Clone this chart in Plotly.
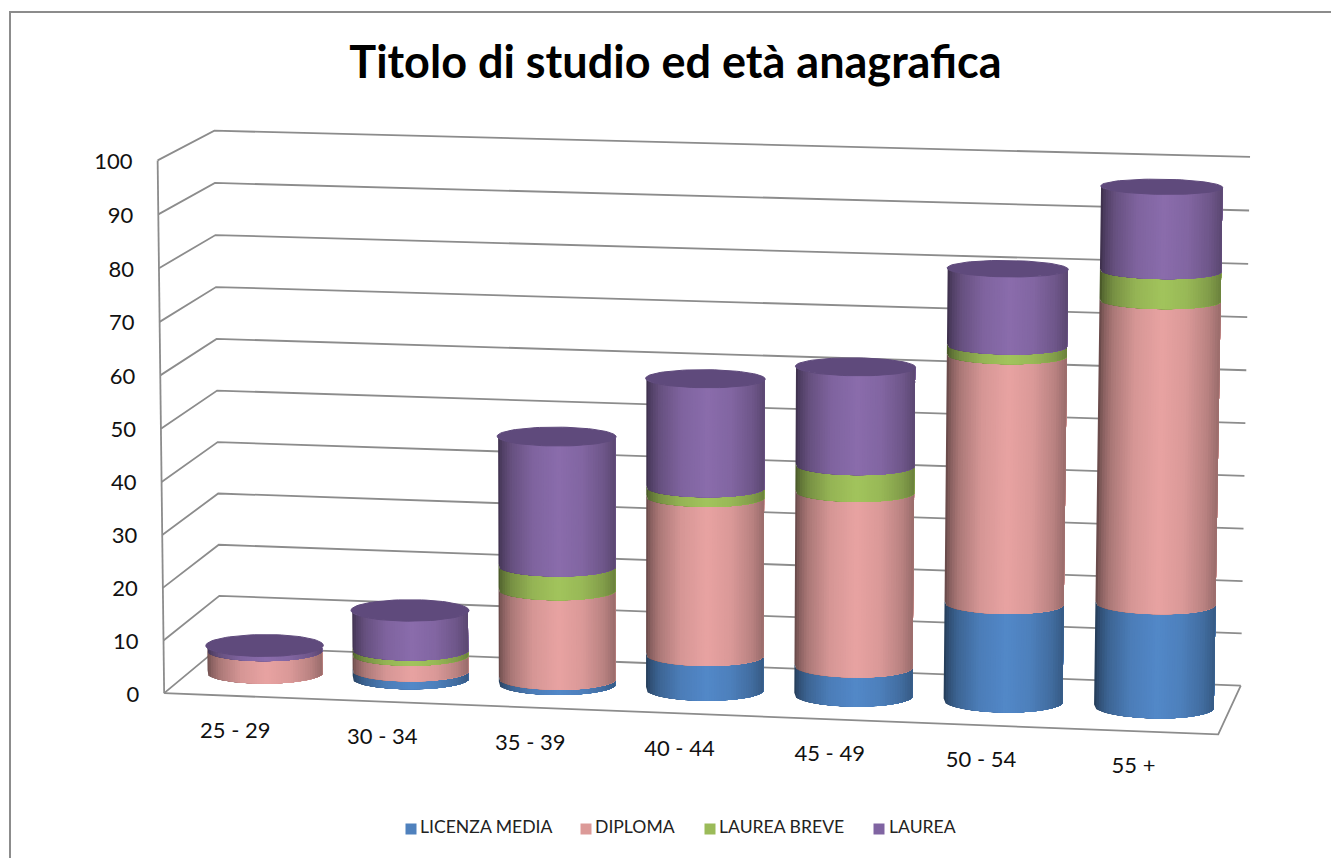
import numpy as np
import plotly.graph_objects as go

categories = ["25 - 29", "30 - 34", "35 - 39", "40 - 44", "45 - 49", "50 - 54", "55 +"]
licenza_media = [0, 1.5, 1, 6.6, 5.5, 18.5, 19.5]
diploma = [4.3, 3, 17, 30, 33, 46.5, 56.5]
laurea_breve = [0, 1, 4.5, 1.8, 5, 1.8, 5.5]
laurea = [0.9, 7.5, 24.6, 20.5, 18.5, 14.3, 15.5]
series_names = ["LICENZA MEDIA", "DIPLOMA", "LAUREA BREVE", "LAUREA"]
series_values = [licenza_media, diploma, laurea_breve, laurea]
legend_colors = ["#4F81BD", "#DC9A98", "#9BBB59", "#8064A2"]
side_rgb = [(82, 136, 200), (232, 163, 162), (162, 196, 92), (138, 108, 172)]
top_color = "#5f4a7c"
grid_color = "#8c8c8c"
y_ticks = list(range(0, 101, 10))

# Perspective of the chart box, fitted to its corners: (category share, value share, depth share) -> page pixel
corners = [((0, 0, 0), (165, 693)), ((0, 1, 0), (157, 160)), ((0, 1, 1), (215, 131)), ((0, 0, 1), (219, 647)),
           ((1, 1, 1), (1250, 157)), ((1, 0, 1), (1241, 685)), ((1, 0, 0), (1218, 735))]
A, b = [], []
for (u, v, w), (px, py) in corners:
    A.append([u, v, w, 1, 0, 0, 0, 0, -px * u, -px * v, -px * w]); b.append(px)
    A.append([0, 0, 0, 0, u, v, w, 1, -py * u, -py * v, -py * w]); b.append(py)
H = np.append(np.linalg.lstsq(np.array(A, float), np.array(b, float), rcond=None)[0], 1).reshape(3, 4)


def project(u, v, w):
    p = np.stack([np.asarray(u, float), np.asarray(v, float), np.asarray(w, float), np.ones_like(np.asarray(u, float))])
    q = H @ p
    return q[0] / q[2], q[1] / q[2]


fig = go.Figure()


def path(pts):
    a = np.array(pts, float)
    x, y = project(a[:, 0], a[:, 1], a[:, 2])
    fig.add_trace(go.Scatter(x=x, y=y, mode="lines", line=dict(color=grid_color, width=1.8), hoverinfo="skip", showlegend=False))


# chart border
fig.add_trace(go.Scatter(x=[10, 10, 1331], y=[858, 12, 12], mode="lines", line=dict(color="#8c8c8c", width=2),
                         hoverinfo="skip", showlegend=False))
# walls and floor
for t in y_ticks:
    path([(0, t / 100, 0), (0, t / 100, 1), (1, t / 100, 1)])
path([(0, 0, 0), (0, 1, 0)])
path([(0, 0, 0), (1, 0, 0), (1, 0, 1)])

# cylinders: each band runs from its left edge to the right side, so later bands paint over it with no seams
n_cat = len(categories)
R_U, R_W = 0.0565, 0.235
N = 48
mult_t = [0, .04, .12, .3, .52, .72, .9, 1]
mult_v = [.42, .58, .74, .92, 1.0, .94, .8, .66]
totals = [sum(s[c] for s in series_values) for c in range(n_cat)]
fine = np.linspace(np.pi, 2 * np.pi, 241)
for s, vals in enumerate(series_values):
    for k in range(N):
        xs, ys = [], []
        for c, val in enumerate(vals):
            if val <= 0:
                continue
            base = sum(series_values[j][c] for j in range(s))
            uc = (c + 0.5) / n_cat
            fx, _ = project(uc + R_U * np.cos(fine), 0 * fine, 0.5 + R_W * np.sin(fine))
            th = np.interp(np.linspace(fx.min(), fx.max(), N + 1), fx, fine)[k:]
            us, ws = uc + R_U * np.cos(th), 0.5 + R_W * np.sin(th)
            x0, y0 = project(us, np.full(len(th), base / 100), ws)
            x1, y1 = project(us, np.full(len(th), (base + val) / 100), ws)
            xs += list(x0) + list(x1[::-1]) + [x0[0], None]
            ys += list(y0) + list(y1[::-1]) + [y0[0], None]
        m = np.interp((k + 0.5) / N, mult_t, mult_v)
        col = "rgb(%d,%d,%d)" % tuple(int(round(ch * m)) for ch in side_rgb[s])
        fig.add_trace(go.Scatter(x=xs, y=ys, mode="lines", fill="toself", fillcolor=col, line=dict(color=col, width=0),
                                 hoverinfo="skip", showlegend=False))
cap_x, cap_y = [], []
phi = np.linspace(0, 2 * np.pi, 81)
for c, tot in enumerate(totals):
    x, y = project((c + 0.5) / n_cat + R_U * np.cos(phi), np.full(81, tot / 100), 0.5 + R_W * np.sin(phi))
    cap_x += list(x) + [None]
    cap_y += list(y) + [None]
fig.add_trace(go.Scatter(x=cap_x, y=cap_y, mode="lines", fill="toself", fillcolor=top_color, line=dict(color=top_color, width=1),
                         hoverinfo="skip", showlegend=False))

# axis labels
lx, ly = project(np.zeros(len(y_ticks)), np.array(y_ticks) / 100, np.zeros(len(y_ticks)))
fig.add_trace(go.Scatter(x=lx - 25, y=ly + 3, mode="text", text=[str(t) for t in y_ticks], textposition="middle left",
                         textfont=dict(family="Lato", size=22, color="#111"), hoverinfo="skip", showlegend=False))
uc = (np.arange(n_cat) + 0.5) / n_cat
cx, cy = project(uc, np.zeros(n_cat), np.zeros(n_cat))
fig.add_trace(go.Scatter(x=cx - 2 - 6 * uc, y=cy + 36.5, mode="text", text=categories, textposition="middle center",
                         textfont=dict(family="Lato", size=22, color="#111"), hoverinfo="skip", showlegend=False))

# legend row
legend_marker_x = [411, 586, 710, 879]
legend_text_x = [420, 595, 719, 889]
for name, color, xm, xt in zip(series_names, legend_colors, legend_marker_x, legend_text_x):
    fig.add_trace(go.Scatter(x=[xm], y=[829], mode="markers", name=name,
                             marker=dict(symbol="square", size=11, color=color, line=dict(width=0)),
                             hoverinfo="skip", showlegend=False))
    fig.add_trace(go.Scatter(x=[xt], y=[829], mode="text", text=[name], textposition="middle right",
                             textfont=dict(family="Lato", size=17.6, color="#222"), hoverinfo="skip", showlegend=False))

fig.update_layout(
    width=1331, height=858, paper_bgcolor="white", plot_bgcolor="white", margin=dict(l=0, r=0, t=0, b=0),
    showlegend=False,
    title=dict(text="<b>Titolo di studio ed età anagrafica</b>", x=0.5075, y=0.927, xanchor="center", yanchor="middle",
               font=dict(family="Lato", size=45, color="black")),
    xaxis=dict(visible=False, range=[0, 1331], domain=[0, 1], fixedrange=True),
    yaxis=dict(visible=False, range=[858, 0], domain=[0, 1], fixedrange=True),
)
fig.write_html("out.html", post_script="document.body.style.margin='0';", config=dict(displayModeBar=False))
